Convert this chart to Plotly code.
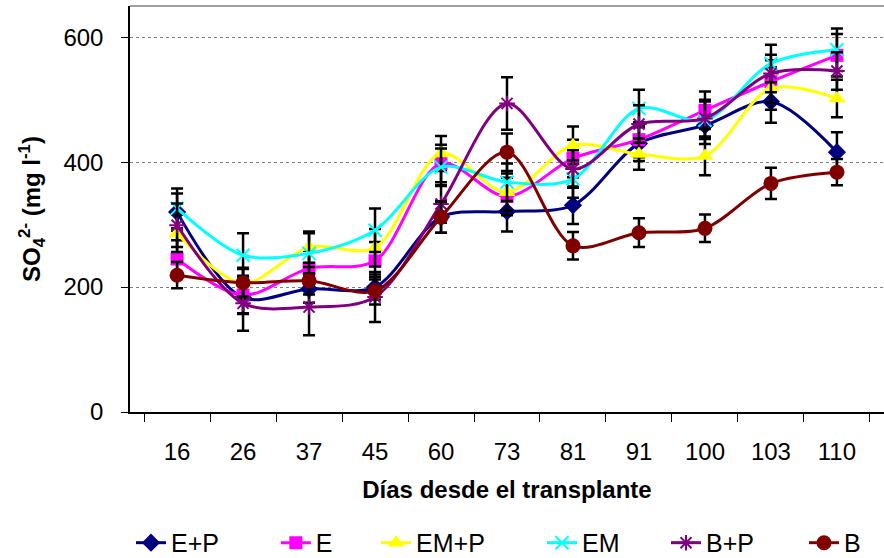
import plotly.graph_objects as go

days = ["16", "26", "37", "45", "60", "73", "81", "91", "100", "103", "110"]

ep = [320, 183, 197, 200, 312, 321, 331, 430, 459, 497, 416]
ep_err = [30, 25, 22, 20, 25, 32, 30, 28, 30, 34, 32]
e = [245, 187, 230, 242, 398, 345, 406, 436, 483, 529, 571]
e_err = [30, 30, 28, 30, 30, 30, 30, 28, 30, 34, 34]
emp = [286, 206, 264, 263, 414, 352, 427, 413, 410, 518, 502]
emp_err = [30, 25, 25, 30, 28, 30, 30, 25, 31, 34, 30]
em = [326, 251, 254, 291, 392, 368, 373, 486, 467, 558, 580]
em_err = [32, 35, 32, 35, 30, 30, 30, 30, 30, 30, 34]
bp = [299, 174, 168, 184, 333, 494, 389, 461, 470, 542, 546]
bp_err = [35, 44, 45, 40, 30, 42, 30, 30, 30, 30, 30]
b = [219, 207, 210, 194, 312, 416, 266, 287, 294, 366, 384]
b_err = [21, 22, 22, 22, 25, 30, 22, 23, 22, 25, 21]

series = [
    ("E+P", ep, ep_err, "#000080", "diamond", 14, 0),
    ("E", e, e_err, "#FF00FF", "square", 13, 0),
    ("EM+P", emp, emp_err, "#FFFF00", "triangle-up", 15, 0),
    ("EM", em, em_err, "#00FFFF", "x-thin-open", 13, 2),
    ("B+P", bp, bp_err, "#800080", "asterisk-open", 13, 2),
    ("B", b, b_err, "#800000", "circle", 15, 0),
]
legend_x = [0.0013, 0.1934, 0.3263, 0.5464, 0.7109, 0.8939]

fig = go.Figure()
layout_legends = {}
for i, (name, vals, err, col, sym, size, lw) in enumerate(series):
    lname = "legend" if i == 0 else f"legend{i + 1}"
    fig.add_trace(go.Scatter(
        x=days, y=vals, name=name, mode="lines+markers", legend=lname,
        line=dict(color=col, width=3, shape="spline", smoothing=0.9),
        marker=dict(symbol=sym, size=size, color=col,
                    line=dict(color=col, width=lw)),
        error_y=dict(type="data", array=err, visible=True,
                     color="black", thickness=2.5, width=6),
    ))
    layout_legends[lname] = dict(
        orientation="h", x=legend_x[i], xanchor="left",
        yref="container", y=0.027, yanchor="middle",
        font=dict(size=25, color="black"), bgcolor="rgba(0,0,0,0)",
    )

fig.update_layout(
    width=884, height=558,
    margin=dict(l=130, r=0, t=6, b=146, autoexpand=False),
    plot_bgcolor="white", paper_bgcolor="white",
    font=dict(family="Liberation Sans, Arial, sans-serif", size=24, color="black"),
    showlegend=True,
    shapes=[dict(type="line", xref="paper", yref="paper", x0=0, x1=1, y0=1, y1=1,
                 line=dict(color="#a0a0a0", width=2))],
    **layout_legends,
)
fig.update_xaxes(
    type="category", showline=True, linecolor="black", linewidth=1.5,
    ticks="outside", tickson="boundaries", ticklen=8, tickcolor="black",
    showgrid=False, tickfont=dict(size=24), ticklabelstandoff=17,
    title=dict(text="<b>Días desde el transplante</b>", font=dict(size=24), standoff=18),
)
fig.update_yaxes(
    range=[0, 650], tickvals=[0, 200, 400, 600], showline=True,
    linecolor="black", linewidth=1.5, ticks="outside", ticklen=7, tickcolor="black",
    showgrid=True, gridcolor="#808080", griddash="dot", gridwidth=1,
    zeroline=False, tickfont=dict(size=24), ticklabelstandoff=13,
    title=dict(text="<b>SO<sub>4</sub><sup>2-</sup> (mg l<sup>-1</sup>)</b>",
               font=dict(size=24), standoff=16),
)

fig.write_html("out.html")
